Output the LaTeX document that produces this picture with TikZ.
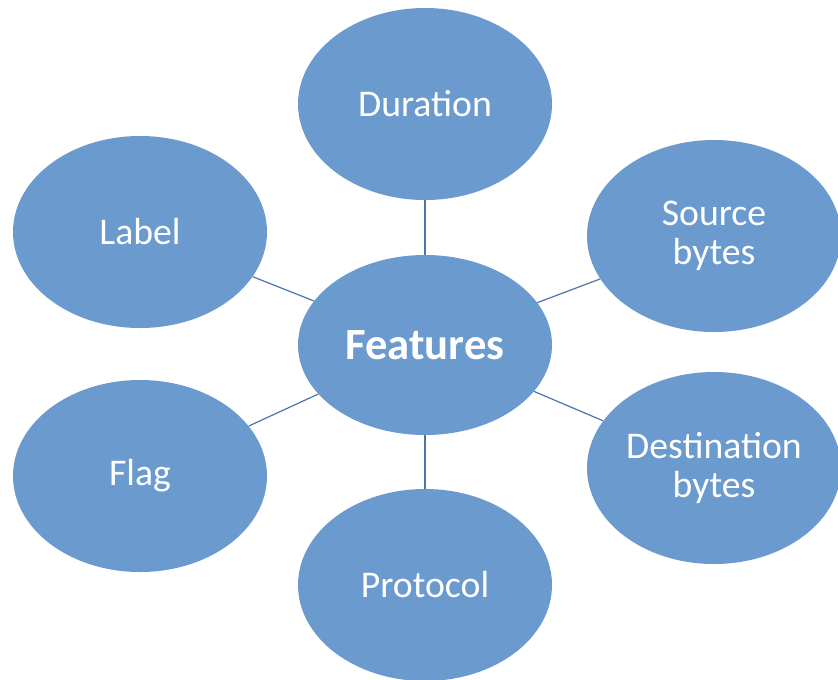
\documentclass[tikz,border=0pt]{standalone}
\usepackage{fontspec}
\setmainfont{Carlito}
\usetikzlibrary{shapes.geometric}
\definecolor{bubfill}{HTML}{6A9ACE}
\definecolor{linec}{HTML}{4A75A8}
\begin{document}
\begin{tikzpicture}[x=0.75pt,y=-0.75pt,
  bub/.style={ellipse, fill=bubfill, draw=none, minimum width=190.5pt, minimum height=144pt, inner sep=0pt, text=white, font=\fontsize{28.3}{29}\selectfont, align=center},
  link/.style={draw=linec, line width=0.9pt}]
\useasboundingbox (0,0) rectangle (838,679);
\node[bub] (dur) at (425,104) {Duration};
\node[bub] (lab) at (140,232) {Label};
\node[bub] (src) at (714,236) {Source\\bytes};
\node[bub, minimum height=135pt, font=\fontsize{33.5}{34}\selectfont\bfseries] (feat) at (425,345) {Features};
\node[bub] (flag) at (140,476) {Flag};
\node[bub] (dst) at (714,468) {Destination\\bytes};
\node[bub] (prot) at (425,585) {Protocol};
\foreach \n in {dur,lab,src,flag,dst,prot}
  \draw[link] (feat) -- (\n);
\end{tikzpicture}
\end{document}
